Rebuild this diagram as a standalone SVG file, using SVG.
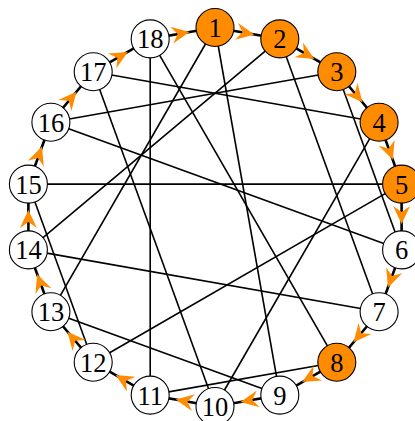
<svg xmlns="http://www.w3.org/2000/svg" width="415" height="421" viewBox="0 0 415 421">
<style>
.chord{stroke:#000;stroke-width:1.6;fill:none}
.cyc{stroke:#000;stroke-width:2.6;fill:none;marker-mid:url(#ah)}
.n circle{fill:#fff;stroke:#000;stroke-width:1.1}
.n.o circle{fill:#FF8C00}
.n text{font-family:"Liberation Serif","DejaVu Serif",serif;font-size:26.5px;text-anchor:middle;fill:#000}
</style>
<defs>
<marker id="ah" markerUnits="userSpaceOnUse" orient="auto" viewBox="-13 -10 22 20" markerWidth="22" markerHeight="20" refX="0" refY="0" overflow="visible">
<path d="M7,0 L-11,-8.5 L-5,0 L-11,8.5 Z" fill="#FF8C00"/>
</marker>
</defs>
<rect width="415" height="421" fill="#fff"/>
<g id="connectors">
<line class="chord" x1="150.2" y1="38.9" x2="336.8" y2="362.2"/>
<line class="chord" x1="150.2" y1="38.9" x2="150.2" y2="395.1"/>
<line class="chord" x1="93.2" y1="71.8" x2="379.1" y2="122.3"/>
<line class="chord" x1="93.2" y1="71.8" x2="215" y2="406.5"/>
<line class="chord" x1="50.9" y1="122.3" x2="336.8" y2="71.8"/>
<line class="chord" x1="50.9" y1="122.3" x2="401.6" y2="249.9"/>
<line class="chord" x1="28.4" y1="184.1" x2="401.6" y2="184.1"/>
<line class="chord" x1="28.4" y1="184.1" x2="93.2" y2="362.2"/>
<line class="chord" x1="28.4" y1="249.9" x2="279.8" y2="38.9"/>
<line class="chord" x1="28.4" y1="249.9" x2="379.1" y2="311.8"/>
<line class="chord" x1="50.9" y1="311.8" x2="215" y2="27.5"/>
<line class="chord" x1="50.9" y1="311.8" x2="279.8" y2="395.1"/>
<line class="chord" x1="93.2" y1="362.2" x2="401.6" y2="184.1"/>
<line class="chord" x1="150.2" y1="395.1" x2="336.8" y2="362.2"/>
<line class="chord" x1="215" y1="406.5" x2="379.1" y2="122.3"/>
<line class="chord" x1="279.8" y1="395.1" x2="215" y2="27.5"/>
<line class="chord" x1="379.1" y1="311.8" x2="279.8" y2="38.9"/>
<line class="chord" x1="401.6" y1="249.9" x2="336.8" y2="71.8"/>
<polyline class="cyc" points="215,27.5 247.4,33.2 279.8,38.9"/>
<polyline class="cyc" points="279.8,38.9 308.3,55.4 336.8,71.8"/>
<polyline class="cyc" points="336.8,71.8 358,97 379.1,122.3"/>
<polyline class="cyc" points="379.1,122.3 390.4,153.2 401.6,184.1"/>
<polyline class="cyc" points="401.6,184.1 401.6,217 401.6,249.9"/>
<polyline class="cyc" points="401.6,249.9 390.4,280.8 379.1,311.8"/>
<polyline class="cyc" points="379.1,311.8 358,337 336.8,362.2"/>
<polyline class="cyc" points="336.8,362.2 308.3,378.6 279.8,395.1"/>
<polyline class="cyc" points="279.8,395.1 247.4,400.8 215,406.5"/>
<polyline class="cyc" points="215,406.5 182.6,400.8 150.2,395.1"/>
<polyline class="cyc" points="150.2,395.1 121.7,378.6 93.2,362.2"/>
<polyline class="cyc" points="93.2,362.2 72,337 50.9,311.8"/>
<polyline class="cyc" points="50.9,311.8 39.6,280.8 28.4,249.9"/>
<polyline class="cyc" points="28.4,249.9 28.4,217 28.4,184.1"/>
<polyline class="cyc" points="28.4,184.1 39.6,153.2 50.9,122.3"/>
<polyline class="cyc" points="50.9,122.3 72,97 93.2,71.8"/>
<polyline class="cyc" points="93.2,71.8 121.7,55.4 150.2,38.9"/>
<polyline class="cyc" points="150.2,38.9 182.6,33.2 215,27.5"/>
</g>
<g id="n1" class="n o"><circle cx="215" cy="27.5" r="19"/><text x="215" y="37">1</text></g>
<g id="n2" class="n o"><circle cx="279.8" cy="38.9" r="19"/><text x="279.8" y="48.4">2</text></g>
<g id="n3" class="n o"><circle cx="336.8" cy="71.8" r="19"/><text x="336.8" y="81.3">3</text></g>
<g id="n4" class="n o"><circle cx="379.1" cy="122.3" r="19"/><text x="379.1" y="131.8">4</text></g>
<g id="n5" class="n o"><circle cx="401.6" cy="184.1" r="19"/><text x="401.6" y="193.6">5</text></g>
<g id="n6" class="n"><circle cx="401.6" cy="249.9" r="19"/><text x="401.6" y="259.4">6</text></g>
<g id="n7" class="n"><circle cx="379.1" cy="311.8" r="19"/><text x="379.1" y="321.3">7</text></g>
<g id="n8" class="n o"><circle cx="336.8" cy="362.2" r="19"/><text x="336.8" y="371.7">8</text></g>
<g id="n9" class="n"><circle cx="279.8" cy="395.1" r="19"/><text x="279.8" y="404.6">9</text></g>
<g id="n10" class="n"><circle cx="215" cy="406.5" r="19"/><text x="215" y="416">10</text></g>
<g id="n11" class="n"><circle cx="150.2" cy="395.1" r="19"/><text x="150.2" y="404.6">11</text></g>
<g id="n12" class="n"><circle cx="93.2" cy="362.2" r="19"/><text x="93.2" y="371.7">12</text></g>
<g id="n13" class="n"><circle cx="50.9" cy="311.8" r="19"/><text x="50.9" y="321.3">13</text></g>
<g id="n14" class="n"><circle cx="28.4" cy="249.9" r="19"/><text x="28.4" y="259.4">14</text></g>
<g id="n15" class="n"><circle cx="28.4" cy="184.1" r="19"/><text x="28.4" y="193.6">15</text></g>
<g id="n16" class="n"><circle cx="50.9" cy="122.3" r="19"/><text x="50.9" y="131.8">16</text></g>
<g id="n17" class="n"><circle cx="93.2" cy="71.8" r="19"/><text x="93.2" y="81.3">17</text></g>
<g id="n18" class="n"><circle cx="150.2" cy="38.9" r="19"/><text x="150.2" y="48.4">18</text></g>
</svg>
